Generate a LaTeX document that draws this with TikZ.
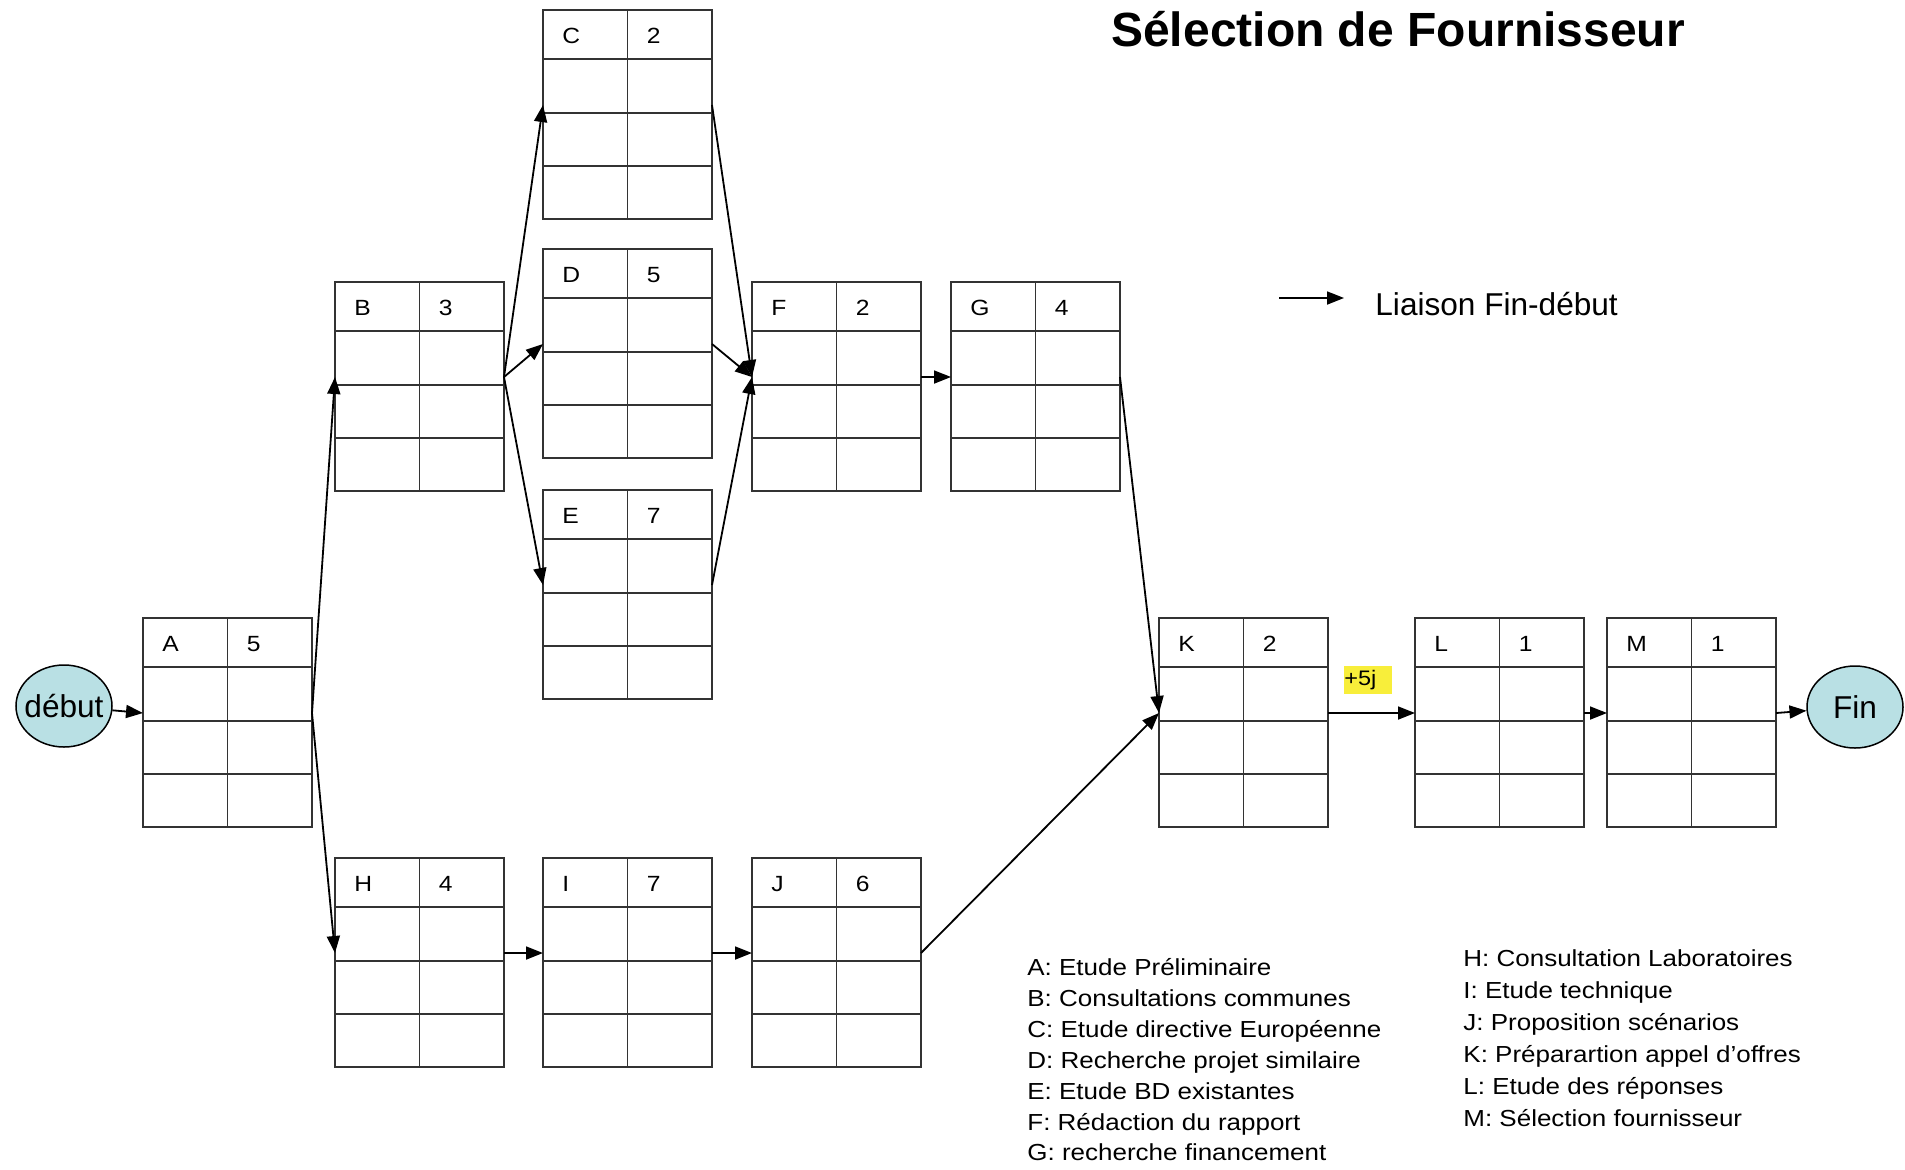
\documentclass[tikz,border=0pt]{standalone}
\usepackage{fontspec}
\setmainfont{Liberation Sans}
\newfontfamily\widesans[FakeStretch=1.12]{Liberation Sans}
\usetikzlibrary{calc,arrows.meta,shapes.geometric}
\definecolor{gridc}{HTML}{333333}
\definecolor{ellc}{HTML}{B9E0E4}
\definecolor{hl}{HTML}{F8EE3A}
\tikzset{
 actnode/.style={draw=gridc, line width=0.75pt, rectangle, minimum width=84.5pt, minimum height=104.5pt, inner sep=0pt, outer sep=0pt},
 gridline/.style={draw=gridc, line width=0.75pt},
 boxlbl/.style={inner sep=0pt, font=\widesans\fontsize{11pt}{12pt}\selectfont},
 arr/.style={draw=black, line width=0.9pt, -{Triangle[length=8.5pt,width=6.5pt]}},
 terminal/.style={ellipse, draw=black, line width=0.75pt, fill=ellc, minimum width=48pt, minimum height=41pt, inner xsep=-3pt, inner ysep=0pt, font=\fontsize{15.8pt}{18pt}\selectfont},
 legtxt/.style={inner sep=0pt, anchor=base west, font=\widesans\fontsize{11.6pt}{13pt}\selectfont},
}
\newcommand{\actbox}[5]{%
 \node[actnode, anchor=north west] (#1) at (#2,#3) {};
 \draw[gridline] ($(#1.north west)+(0,49)$) -- ($(#1.north east)+(0,49)$);
 \draw[gridline] ($(#1.north west)+(0,103)$) -- ($(#1.north east)+(0,103)$);
 \draw[gridline] ($(#1.north west)+(0,156)$) -- ($(#1.north east)+(0,156)$);
 \draw[gridline] (#1.north) -- (#1.south);
 \node[boxlbl, anchor=west] (#1-l) at ($(#1.north west)+(19,26)$) {#4};
 \node[boxlbl, anchor=west] (#1-d) at ($(#1.north)+(19,26)$) {#5};
 \coordinate (#1-in) at ($(#1.north west)+(0,95)$);
 \coordinate (#1-out) at ($(#1.north east)+(0,95)$);
}
\begin{document}
\begin{tikzpicture}[x=0.5pt,y=-0.5pt]
\fill[white] (0,0) rectangle (1905,1169);
\useasboundingbox (0,0) rectangle (1905,1169);

% title
\node[inner sep=0pt, anchor=base, font=\bfseries\fontsize{24pt}{28pt}\selectfont] (title) at (1398,46) {Sélection de Fournisseur};

% activity boxes
\actbox{A}{143}{618}{A}{5}
\actbox{B}{335}{282}{B}{3}
\actbox{C}{543}{10}{C}{2}
\actbox{D}{543}{249}{D}{5}
\actbox{E}{543}{490}{E}{7}
\actbox{F}{752}{282}{F}{2}
\actbox{G}{951}{282}{G}{4}
\actbox{H}{335}{858}{H}{4}
\actbox{I}{543}{858}{I}{7}
\actbox{J}{752}{858}{J}{6}
\actbox{K}{1159}{618}{K}{2}
\actbox{L}{1415}{618}{L}{1}
\actbox{M}{1607}{618}{M}{1}

% start / end
\node[terminal] (debut) at (64,706) {début};
\node[terminal] (fin) at (1855,707) {Fin};

% connectors
\draw[arr] (debut) -- (A-in);
\draw[arr] (A-out) -- (B-in);
\draw[arr] (A-out) -- (H-in);
\draw[arr] (B-out) -- (C-in);
\draw[arr] (B-out) -- (D-in);
\draw[arr] (B-out) -- (E-in);
\draw[arr] (C-out) -- (F-in);
\draw[arr] (D-out) -- (F-in);
\draw[arr] (E-out) -- (F-in);
\draw[arr] (F-out) -- (G-in);
\draw[arr] (G-out) -- (K-in);
\draw[arr] (H-out) -- (I-in);
\draw[arr] (I-out) -- (J-in);
\draw[arr] (J-out) -- (K-in);
\draw[arr] (K-out) -- (L-in);
\draw[arr] (L-out) -- (M-in);
\draw[arr] (M-out) -- (fin);

% lag label
\node[fill=hl, inner sep=0pt, minimum height=14pt, text width=24pt, align=left, anchor=north west, font=\widesans\fontsize{10.5pt}{12pt}\selectfont] (lag) at (1344,666) {+5j};

% legend arrow
\coordinate (lg1) at (1279,298);
\coordinate (lg2) at (1344,298);
\draw[arr] (lg1) -- (lg2);
\node[inner sep=0pt, anchor=base west, font=\fontsize{15.8pt}{18pt}\selectfont] (liaison) at (1375,315) {Liaison Fin-début};

% legend left
\node[legtxt] (la) at (1027,975) {A: Etude Préliminaire};
\node[legtxt] (lb) at (1027,1006) {B: Consultations communes};
\node[legtxt] (lc) at (1027,1037) {C: Etude directive Européenne};
\node[legtxt] (ld) at (1027,1068) {D: Recherche projet similaire};
\node[legtxt] (le) at (1027,1099) {E: Etude BD existantes};
\node[legtxt] (lf) at (1027,1130) {F: Rédaction du rapport};
\node[legtxt] (lgg) at (1027,1160) {G: recherche financement};

% legend right
\node[legtxt] (lh) at (1463,966) {H: Consultation Laboratoires};
\node[legtxt] (li) at (1463,998) {I: Etude technique};
\node[legtxt] (lj) at (1463,1030) {J: Proposition scénarios};
\node[legtxt] (lk) at (1463,1062) {K: Préparartion appel d’offres};
\node[legtxt] (ll) at (1463,1094) {L: Etude des réponses};
\node[legtxt] (lm) at (1463,1126) {M: Sélection fournisseur};
\end{tikzpicture}
\end{document}
